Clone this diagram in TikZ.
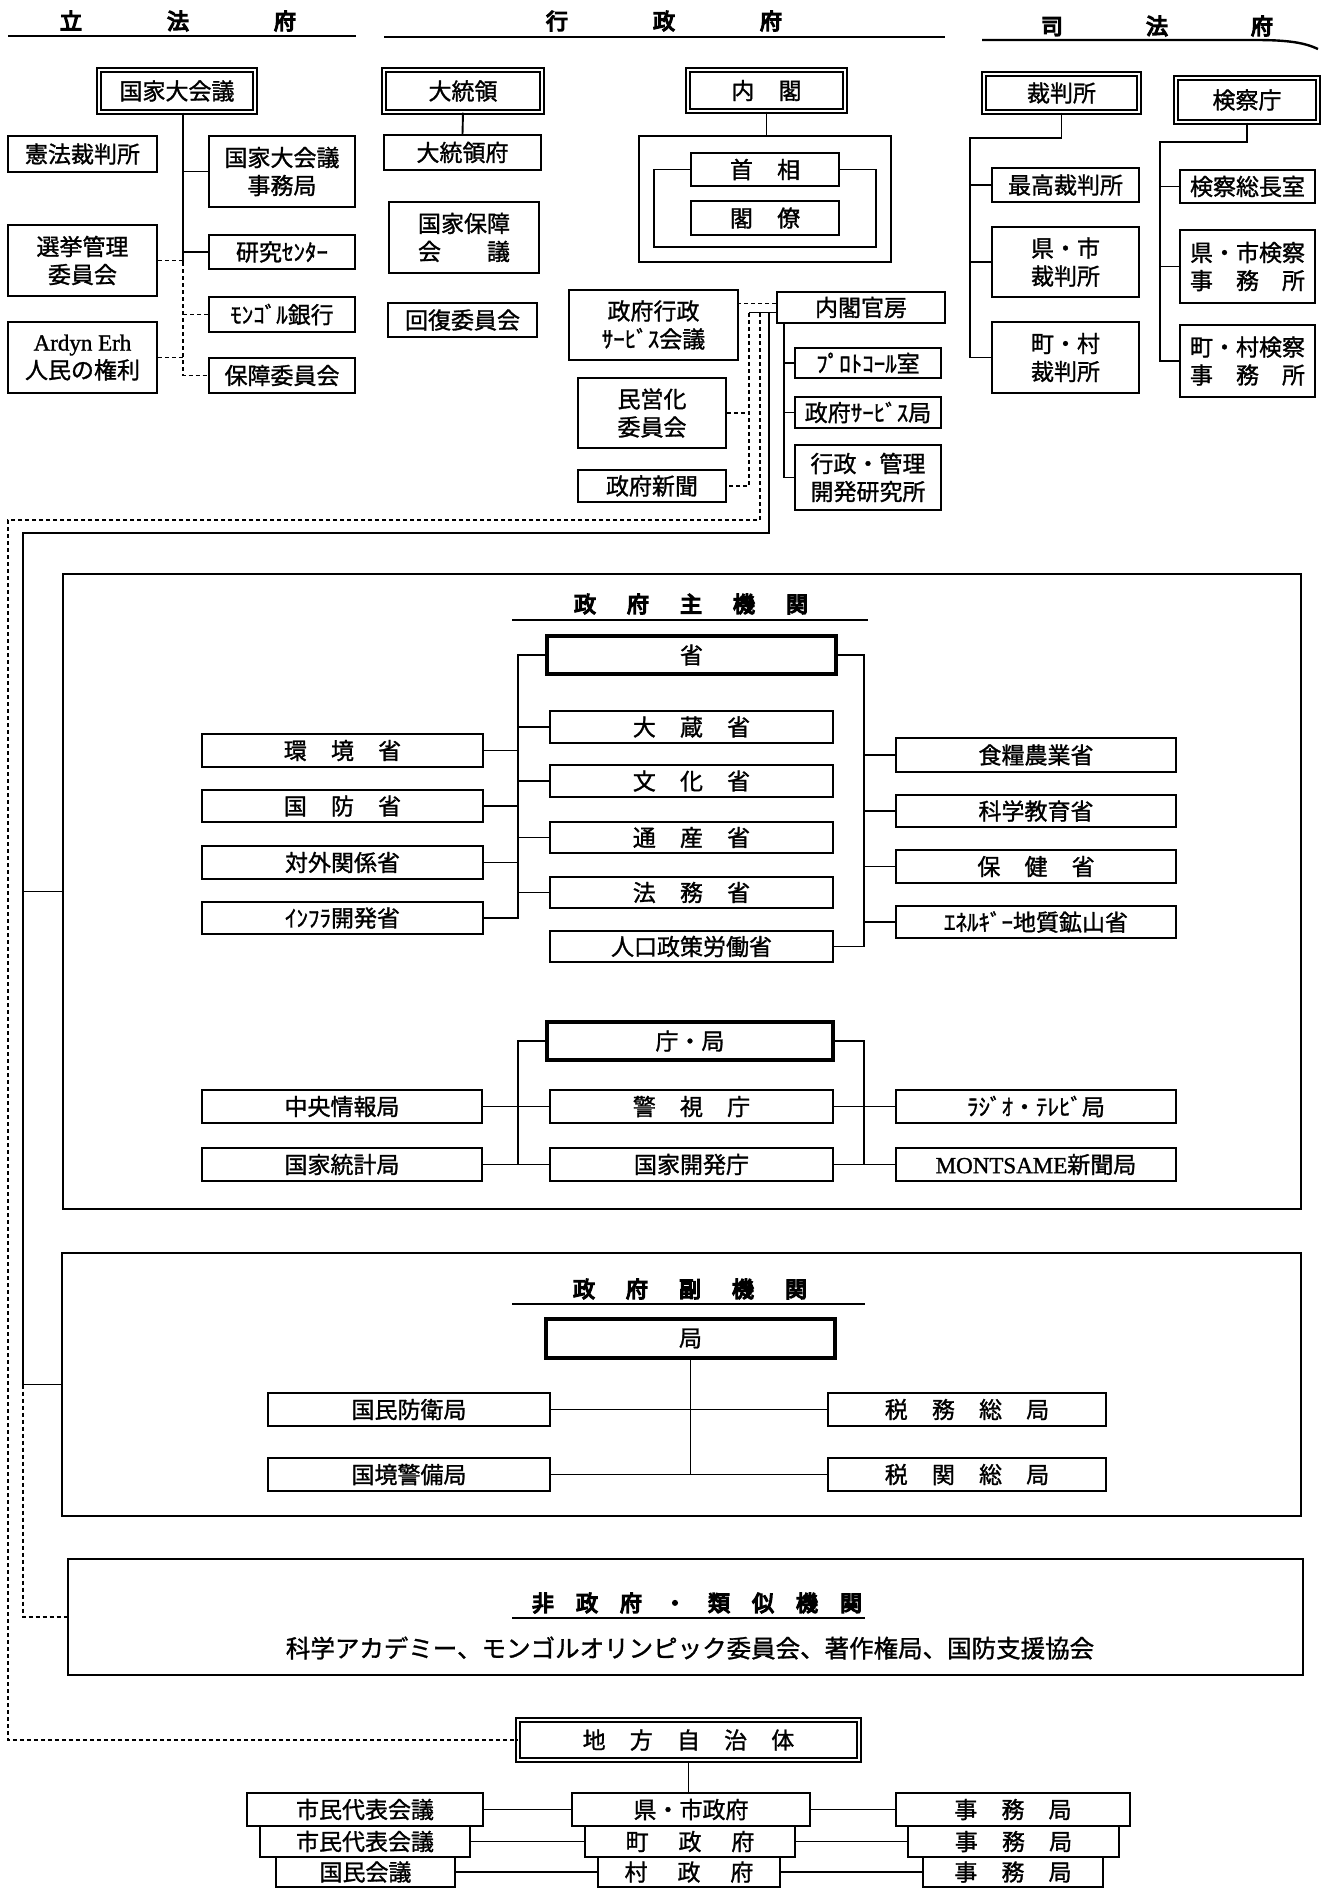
\documentclass[tikz,border=0pt]{standalone}
\usepackage{fontspec}
\setmainfont{Noto Sans CJK JP}[FakeBold=1.2]
\newfontfamily\hdfont{Noto Sans CJK JP}[FakeBold=6]
\newfontfamily\lat{Liberation Serif}[FakeBold=1.2]
\usetikzlibrary{calc}
\newcommand\gp{\hspace{1.05em}}
\newcommand\gq{\hspace{1.3em}}
\newcommand\bx[7][]{%
 \pgfmathsetmacro\bxX{(#3+#5)/2}%
 \pgfmathsetmacro\bxY{(#4+#6)/2}%
 \pgfmathsetmacro\bxW{#5-#3}%
 \pgfmathsetmacro\bxH{#6-#4}%
 \node[bbox,minimum width=\bxW pt,minimum height=\bxH pt,#1] (#2) at (\bxX,\bxY) {#7};}
\begin{document}
\begin{tikzpicture}[x=1pt,y=-1pt,
  bbox/.style={draw,line width=1.7pt,inner sep=1pt,align=center,font=\fontsize{23}{28}\selectfont},
  dbl/.style={double,line width=1.5pt,double distance=2.5pt},
  thk/.style={line width=3.8pt},
  ln/.style={line width=1.9pt},
  ln2/.style={line width=1.5pt},
  dl/.style={line width=1.6pt,dash pattern=on 4pt off 3pt},
  hline/.style={line width=2.4pt},
  hd/.style={font=\fontsize{22}{26}\selectfont\hdfont,inner sep=0pt}]
\fill[white] (0,0) rectangle (1327,1889);
\useasboundingbox (0,0) rectangle (1327,1889);

% ---------- headers ----------
\node[hd] (tL) at (178,21) {立\hspace{85pt}法\hspace{85pt}府};
\draw[hline] (8,36) -- (356,36);
\node[hd] (tE) at (664,21) {行\hspace{85pt}政\hspace{85pt}府};
\draw[hline] (384,37) -- (945,37);
\node[hd] (tJ) at (1157,26) {司\hspace{83pt}法\hspace{83pt}府};
\draw[hline] (982,40) -- (1255,40) .. controls (1290,40) and (1305,43) .. (1318,49);

% ---------- legislative ----------
\bx[dbl]{kokkai}{99}{70}{255}{112}{国家大会議}
\bx{kenpo}{8}{136}{157}{172}{憲法裁判所}
\bx{jimu}{209}{136}{355}{207}{国家大会議\\事務局}
\bx{kenkyu}{209}{235}{355}{269}{研究ｾﾝﾀｰ}
\bx{senkyo}{8}{225}{157}{296}{選挙管理\\委員会}
\bx{mgbank}{209}{297}{355}{332}{ﾓﾝｺﾞﾙ銀行}
\bx{ardyn}{8}{322}{157}{393}{{\lat Ardyn Erh}\\人民の権利}
\bx{hosho}{209}{358}{355}{393}{保障委員会}
\coordinate (lt1) at (183,262);
\draw[ln] (kokkai.south -| lt1) -- (lt1);
\draw[ln] (jimu.west -| lt1) -- (jimu.west);
\draw[ln] (kenkyu.west -| lt1) -- (kenkyu.west);
\draw[dl] (senkyo.east) -- (senkyo.east -| lt1);
\draw[dl] (lt1) |- (hosho.west);
\draw[dl] (mgbank.west -| lt1) -- (mgbank.west);
\draw[dl] (ardyn.east) -- (ardyn.east -| lt1);

% ---------- executive ----------
\bx[dbl]{pres}{384}{70}{542}{112}{大統領}
\bx{presoff}{384}{135}{541}{170}{大統領府}
\bx{nsc}{389}{202}{539}{273}{国家保障\\\makebox[4em][s]{会\hfill 議}}
\bx{recov}{388}{303}{537}{337}{回復委員会}
\draw[ln] (pres.south) -- (presoff.north);

\bx[dbl]{cab}{688}{70}{845}{111}{内\gp 閣}
\bx{cabbox}{639}{136}{891}{262}{}
\bx{pm}{691}{153}{839}{186}{首\gp 相}
\bx{mins}{691}{201}{839}{235}{閣\gp 僚}
\draw[ln] (cab.south) -- (cab.south |- cabbox.north);
\coordinate (lp1) at (654,247);
\coordinate (lp2) at (876,247);
\draw[ln] (pm.west) -| (lp1) -- (lp2) |- (pm.east);

\bx{council}{569}{290}{738}{360}{政府行政\\ｻｰﾋﾞｽ会議}
\bx{minei}{578}{378}{726}{448}{民営化\\委員会}
\bx{paper}{578}{470}{726}{502}{政府新聞}
\bx{kanbo}{777}{292}{945}{323}{内閣官房}
\bx{proto}{795}{348}{941}{378}{ﾌﾟﾛﾄｺｰﾙ室}
\bx{gsb}{795}{397}{941}{428}{政府ｻｰﾋﾞｽ局}
\bx{admin}{795}{445}{941}{510}{行政・管理\\開発研究所}
\coordinate (kt) at (784,323);
\draw[ln] (kt) |- (admin.west);
\draw[ln] (kt |- proto.west) -- (proto.west);
\draw[ln] (kt |- gsb.west) -- (gsb.west);
\draw[dl] ([yshift=4pt]kanbo.west) -- ([yshift=4pt]kanbo.west -| council.east);

\coordinate (ks) at (749,313);
\coordinate (kv) at (769,533);
\coordinate (kl) at (23,533);
\coordinate (kd) at (760,520);
\coordinate (ld) at (8,520);

% ---------- judicial ----------
\bx[dbl]{court}{984}{74}{1139}{112}{裁判所}
\bx{supreme}{992}{168}{1139}{202}{最高裁判所}
\bx{prefcourt}{992}{227}{1139}{297}{県・市\\裁判所}
\bx{towncourt}{992}{322}{1139}{393}{町・村\\裁判所}
\coordinate (jc) at (970,138);
\draw[ln] (court.south) |- (jc) |- (towncourt.west);
\draw[ln] (jc |- supreme.west) -- (supreme.west);
\draw[ln] (jc |- prefcourt.west) -- (prefcourt.west);

\bx[dbl]{prosec}{1176}{78}{1318}{122}{検察庁}
\bx{pgo}{1180}{170}{1315}{203}{検察総長室}
\bx{prefpros}{1180}{230}{1315}{303}{県・市検察\\\makebox[5em][s]{事\hfill 務\hfill 所}}
\bx{townpros}{1180}{325}{1315}{397}{町・村検察\\\makebox[5em][s]{事\hfill 務\hfill 所}}
\coordinate (jp) at (1160,142);
\draw[ln] (prosec.south) |- (jp) |- (townpros.west);
\draw[ln] (jp |- pgo.west) -- (pgo.west);
\draw[ln] (jp |- prefpros.west) -- (prefpros.west);

% ---------- main organs ----------
\bx{mainbox}{63}{574}{1301}{1209}{}
\node[hd] (t1) at (691,604) {政\hspace{31pt}府\hspace{31pt}主\hspace{31pt}機\hspace{31pt}関};
\draw[hline] (512,620) -- (868,620);

\bx[thk]{sho}{547}{636}{836}{674}{省}
\bx{okura}{550}{711}{833}{743}{大\gp 蔵\gp 省}
\bx{bunka}{550}{765}{833}{797}{文\gp 化\gp 省}
\bx{tsusan}{550}{822}{833}{853}{通\gp 産\gp 省}
\bx{homu}{550}{877}{833}{908}{法\gp 務\gp 省}
\bx{jinko}{550}{931}{833}{962}{人口政策労働省}
\bx{kankyo}{202}{734}{483}{767}{環\gp 境\gp 省}
\bx{kokubo}{202}{790}{483}{822}{国\gp 防\gp 省}
\bx{taigai}{202}{846}{483}{879}{対外関係省}
\bx{infra}{202}{902}{483}{934}{ｲﾝﾌﾗ開発省}
\bx{shokuryo}{896}{738}{1176}{772}{食糧農業省}
\bx{kagaku}{896}{795}{1176}{827}{科学教育省}
\bx{hoken}{896}{850}{1176}{883}{保\gp 健\gp 省}
\bx{energy}{896}{906}{1176}{938}{ｴﾈﾙｷﾞｰ地質鉱山省}
\coordinate (lb) at (518,655);
\coordinate (rb) at (864,655);
\draw[ln] (sho.west) -| (lb |- infra.east) -- (infra.east);
\foreach \n in {okura,bunka,tsusan,homu} \draw[ln] (\n.west) -- (\n.west -| lb);
\foreach \n in {kankyo,kokubo,taigai} \draw[ln] (\n.east) -- (\n.east -| lb);
\draw[ln] (sho.east) -| (rb |- jinko.east) -- (jinko.east);
\foreach \n in {shokuryo,kagaku,hoken,energy} \draw[ln] (\n.west) -- (\n.west -| rb);

\bx[thk]{chokyoku}{547}{1022}{833}{1060}{庁・局}
\bx{chuo}{202}{1090}{482}{1123}{中央情報局}
\bx{keishi}{550}{1090}{833}{1123}{警\gp 視\gp 庁}
\bx{radio}{896}{1090}{1176}{1123}{ﾗｼﾞｵ・ﾃﾚﾋﾞ局}
\bx{tokei}{202}{1148}{482}{1181}{国家統計局}
\bx{kaihatsu}{550}{1148}{833}{1181}{国家開発庁}
\bx{montsame}{896}{1148}{1176}{1181}{{\lat MONTSAME}新聞局}
\draw[ln] (chokyoku.west) -| (lb |- tokei.east);
\draw[ln] (chokyoku.east) -| (rb |- montsame.west);
\draw[ln] (chuo.east) -- (keishi.west);
\draw[ln] (tokei.east) -- (kaihatsu.west);
\draw[ln] (keishi.east) -- (radio.west);
\draw[ln] (kaihatsu.east) -- (montsame.west);

% ---------- sub organs ----------
\bx{subbox}{62}{1253}{1301}{1516}{}
\node[hd] (t2) at (690,1289) {政\hspace{31pt}府\hspace{31pt}副\hspace{31pt}機\hspace{31pt}関};
\draw[hline] (512,1304) -- (865,1304);
\bx[thk]{kyoku}{546}{1319}{835}{1358}{局}
\bx{kokumin}{268}{1393}{550}{1426}{国民防衛局}
\bx{kokkyo}{268}{1458}{550}{1491}{国境警備局}
\bx{zeimu}{828}{1393}{1106}{1426}{税\gp 務\gp 総\gp 局}
\bx{zeikan}{828}{1458}{1106}{1491}{税\gp 関\gp 総\gp 局}
\draw[ln2] (kyoku.south) -- (kyoku.south |- kokkyo.east);
\draw[ln2] (kokumin.east) -- (zeimu.west);
\draw[ln2] (kokkyo.east) -- (zeikan.west);

% ---------- non-government ----------
\bx{ngo}{68}{1559}{1303}{1675}{}
\node[hd] (t3) at (697,1603) {非\hspace{22pt}政\hspace{22pt}府\hspace{22pt}・\hspace{22pt}類\hspace{22pt}似\hspace{22pt}機\hspace{22pt}関};
\draw[hline] (512,1618) -- (865,1618);
\node[font=\fontsize{24.5}{28}\selectfont,inner sep=0pt] (ngotext) at (690,1648) {科学アカデミー、モンゴルオリンピック委員会、著作権局、国防支援協会};

% ---------- local ----------
\bx[dbl]{chiho}{518}{1720}{859}{1760}{地\gp 方\gp 自\gp 治\gp 体}
\bx[fill=white]{shimin1}{247}{1793}{483}{1826}{市民代表会議}
\bx[fill=white]{shimin2}{260}{1826}{470}{1857}{市民代表会議}
\bx[fill=white]{kaigi}{276}{1857}{455}{1887}{国民会議}
\bx[fill=white]{kenshi}{572}{1793}{810}{1826}{県・市政府}
\bx[fill=white]{machi}{585}{1826}{795}{1857}{町\gq 政\gq 府}
\bx[fill=white]{mura}{598}{1857}{780}{1887}{村\gq 政\gq 府}
\bx[fill=white]{jimu1}{896}{1793}{1130}{1826}{事\gp 務\gp 局}
\bx[fill=white]{jimu2}{908}{1826}{1119}{1857}{事\gp 務\gp 局}
\bx[fill=white]{jimu3}{923}{1857}{1103}{1887}{事\gp 務\gp 局}
\draw[ln2] (chiho.south) -- (chiho.south |- kenshi.north);
\draw[ln] (shimin1.east) -- (kenshi.west);
\draw[ln] (kenshi.east) -- (jimu1.west);
\draw[ln] (shimin2.east) -- (machi.west);
\draw[ln] (machi.east) -- (jimu2.west);
\draw[ln] (kaigi.east) -- (mura.west);
\draw[ln] (mura.east) -- (jimu3.west);

% ---------- long connectors from 内閣官房 ----------
\draw[ln] ([yshift=-5pt]kanbo.west) -- ([yshift=-5pt]kanbo.west -| ks);
\draw[dl] (ks) |- (paper.east);
\draw[dl] (minei.east) -- (minei.east -| ks);
\draw[dl] (kd |- ks) -- (kd) -- (ld) |- (chiho.west);
\draw[ln] (kv |- ks) -- (kv) -- (kl) |- (subbox.west);
\draw[ln] (kl |- mainbox.west) -- (mainbox.west);
\draw[dl] (kl |- subbox.west) |- (ngo.west);
\end{tikzpicture}
\end{document}
